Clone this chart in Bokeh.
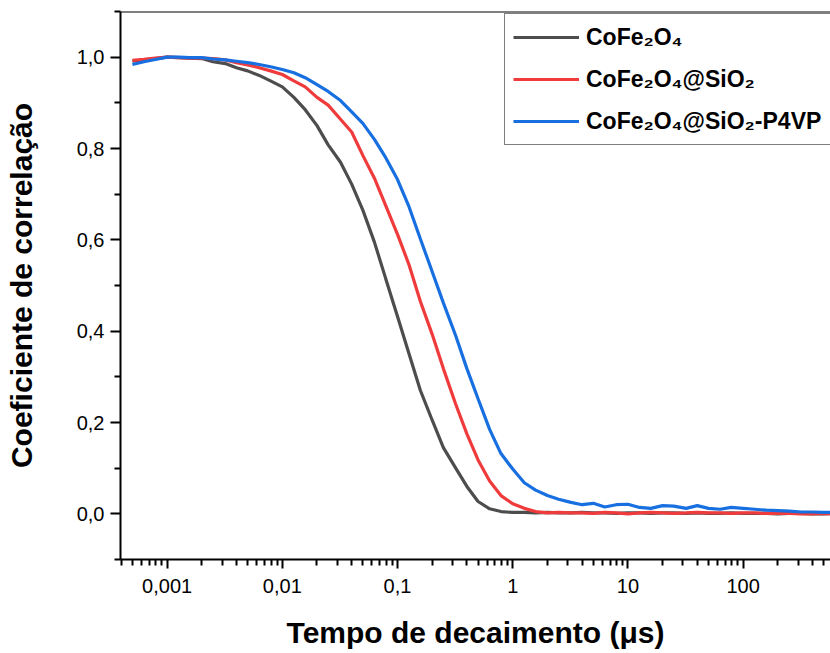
from bokeh.plotting import figure
from bokeh.models import Legend, LegendItem, FixedTicker, CustomJSTickFormatter, Span
from bokeh.embed import file_html
from bokeh.resources import INLINE

# Decay time (microseconds)
tau = [0.0005, 0.00063, 0.00079, 0.001, 0.00126, 0.00158, 0.002, 0.0025, 0.0032, 0.004,
       0.005, 0.0063, 0.0079, 0.01, 0.0126, 0.0158, 0.02, 0.025, 0.032, 0.04,
       0.05, 0.063, 0.079, 0.1, 0.126, 0.158, 0.2, 0.25, 0.32, 0.4,
       0.5, 0.63, 0.79, 1, 1.26, 1.58, 2, 2.5, 3.2, 4,
       5, 6.3, 7.9, 10, 12.6, 15.8, 20, 25, 32, 40,
       50, 63, 79, 100, 126, 158, 200, 250, 320, 400,
       500, 630]

cofe = [0.991, 0.994, 0.997, 1.000, 0.999, 0.998, 0.997, 0.990, 0.986, 0.977,
        0.970, 0.960, 0.948, 0.935, 0.912, 0.885, 0.850, 0.808, 0.770, 0.722,
        0.665, 0.595, 0.515, 0.432, 0.350, 0.270, 0.205, 0.145, 0.100, 0.060,
        0.027, 0.011, 0.005, 0.003, 0.003, 0.002, 0.003, 0.002, 0.002, 0.003,
        0.002, 0.002, 0.001, 0.002, 0.002, 0.001, 0.002, 0.002, 0.001, 0.002,
        0.001, 0.001, 0.002, 0.001, 0.001, 0.001, 0.000, 0.001, 0.001, 0.000,
        0.000, 0.001]

cofe_sio2 = [0.993, 0.995, 0.998, 1.000, 0.999, 0.998, 0.998, 0.997, 0.994, 0.988,
             0.983, 0.977, 0.970, 0.962, 0.948, 0.935, 0.912, 0.895, 0.864, 0.836,
             0.785, 0.735, 0.675, 0.612, 0.545, 0.465, 0.393, 0.318, 0.240, 0.175,
             0.118, 0.072, 0.040, 0.022, 0.012, 0.005, 0.002, 0.003, 0.002, 0.002,
             0.001, 0.003, 0.002, 0.000, 0.002, 0.003, 0.002, 0.001, 0.002, 0.003,
             0.002, 0.002, 0.001, 0.002, 0.002, 0.001, 0.001, 0.001, 0.000, 0.000,
             0.001, 0.000]

cofe_sio2_p4vp = [0.984, 0.990, 0.995, 1.000, 1.000, 0.999, 0.999, 0.996, 0.994, 0.991,
                  0.988, 0.984, 0.979, 0.973, 0.966, 0.955, 0.940, 0.925, 0.905, 0.880,
                  0.855, 0.820, 0.780, 0.732, 0.672, 0.602, 0.530, 0.462, 0.390, 0.318,
                  0.252, 0.185, 0.132, 0.098, 0.068, 0.052, 0.040, 0.032, 0.025, 0.020,
                  0.023, 0.015, 0.020, 0.021, 0.014, 0.012, 0.018, 0.017, 0.012, 0.018,
                  0.012, 0.010, 0.014, 0.012, 0.010, 0.008, 0.007, 0.006, 0.004, 0.004,
                  0.003, 0.003]

series_labels = ["CoFe₂O₄", "CoFe₂O₄@SiO₂", "CoFe₂O₄@SiO₂-P4VP"]
series_colors = ["#4d4d4d", "#ef3b3b", "#176fe0"]

x_major = [0.001, 0.01, 0.1, 1, 10, 100]
y_major = [0.0, 0.2, 0.4, 0.6, 0.8, 1.0]
y_minor = [-0.1, 0.1, 0.3, 0.5, 0.7, 0.9, 1.1]
x_minor = [m * 10.0 ** e for e in range(-4, 3) for m in range(2, 10)]

FONT = "Liberation Sans"

p = figure(width=830, height=653, x_axis_type="log",
           x_range=(3.94e-4, 573), y_range=(-0.1, 1.1),
           output_backend="svg", toolbar_location=None, title=None,
           min_border_left=120, min_border_right=0, min_border_top=11,
           min_border_bottom=94)
p.outline_line_color = None
p.xgrid.visible = False
p.ygrid.visible = False
p.background_fill_color = "white"
p.border_fill_color = "white"

renderers = []
for ys, c in zip([cofe, cofe_sio2, cofe_sio2_p4vp], series_colors):
    r = p.line(tau, ys, line_color=c, line_width=3.2)
    renderers.append(r)

top_line = Span(location=1.1, dimension="width", line_color="black", line_width=2)
p.add_layout(top_line)

for ax in [p.xaxis[0], p.yaxis[0]]:
    ax.axis_line_width = 2
    ax.axis_line_color = "black"
    ax.major_tick_line_width = 2
    ax.minor_tick_line_width = 2
    ax.major_tick_in = 0
    ax.minor_tick_in = 0
    ax.major_label_text_font = FONT
    ax.major_label_text_font_size = "20px"
    ax.major_label_text_color = "black"
    ax.axis_label_text_font = FONT
    ax.axis_label_text_font_size = "30px"
    ax.axis_label_text_font_style = "bold"
    ax.axis_label_text_color = "black"

xa = p.xaxis[0]
xa.ticker = FixedTicker(ticks=x_major, minor_ticks=x_minor)
xa.formatter = CustomJSTickFormatter(code="return String(tick).replace('.', ',');")
xa.major_tick_out = 9
xa.minor_tick_out = 6
xa.major_label_standoff = 10
xa.axis_label = "Tempo de decaimento (μs)"
xa.axis_label_standoff = 20

ya = p.yaxis[0]
ya.ticker = FixedTicker(ticks=y_major, minor_ticks=y_minor)
ya.formatter = CustomJSTickFormatter(code="return tick.toFixed(1).replace('.', ',');")
ya.major_tick_out = 10
ya.minor_tick_out = 6
ya.major_label_standoff = 6
ya.axis_label = "Coeficiente de correlação"
ya.axis_label_standoff = 36

items = [LegendItem(label=lab, renderers=[r]) for lab, r in zip(series_labels, renderers)]
legend = Legend(items=items, location=(384, 414))
legend.label_text_font = FONT
legend.label_text_font_size = "23px"
legend.label_text_font_style = "bold"
legend.label_text_color = "black"
legend.glyph_width = 66
legend.glyph_height = 30
legend.label_height = 30
legend.label_width = 300
legend.label_standoff = 7
legend.padding = 8
legend.spacing = 12
legend.margin = 0
legend.border_line_color = "black"
legend.border_line_width = 1.5
legend.background_fill_color = "white"
legend.background_fill_alpha = 1.0
p.add_layout(legend)

open("out.html", "w").write(file_html(p, INLINE))
